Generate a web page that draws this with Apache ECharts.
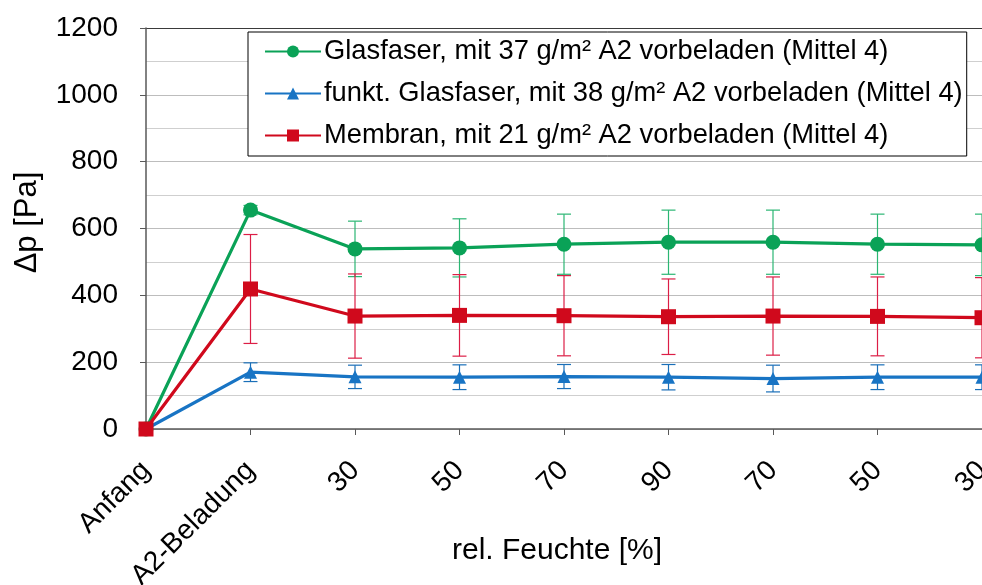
<!DOCTYPE html>
<html>
<head>
<meta charset="utf-8">
<style>
  html, body { margin: 0; padding: 0; background: #fff; }
  #chart { width: 982px; height: 585px; }
</style>
<script src="https://cdn.jsdelivr.net/npm/echarts@6/dist/echarts.min.js"></script>
</head>
<body>
<div id="chart"></div>
<script>
// Pressure drop over the humidity cycle, three pre-loaded filter media
const categories = ['Anfang', 'A2-Beladung', '30', '50', '70', '90', '70', '50', '30'];

const glasfaserMean = [0, 655, 539, 542, 553, 559, 559, 553, 551];
const glasfaserErr  = [0, 14, 83, 87, 90, 96, 96, 90, 92];

const funktMean = [0, 170, 156, 155, 157, 155, 151, 155, 155];
const funktErr  = [0, 28, 35, 37, 36, 38, 40, 37, 37];

const membranMean = [0, 419, 338, 340, 339, 336, 338, 337, 333];
const membranErr  = [0, 163, 126, 122, 120, 113, 117, 118, 120];

const seriesNames = [
  'Glasfaser, mit 37 g/m² A2 vorbeladen (Mittel 4)',
  'funkt. Glasfaser, mit 38 g/m² A2 vorbeladen (Mittel 4)',
  'Membran, mit 21 g/m² A2 vorbeladen (Mittel 4)'
];

const yTicks = { min: 0, max: 1200, step: 200 };

const FONT = "'Liberation Sans', Arial, sans-serif";
const colors = ['#0aa257', '#1874c4', '#d0091c'];
const errColors = ['#2bb673', '#1a6fb8', '#dc1e46'];

function errorData(mean, err) {
  const out = [];
  for (let i = 0; i < mean.length; i++) {
    if (err[i] > 0) out.push([i, mean[i] - err[i], mean[i] + err[i]]);
  }
  return out;
}

function errorSeries(name, data, color) {
  return {
    type: 'custom',
    name: name + ' err',
    data: data,
    z: 1,
    silent: true,
    renderItem: function (params, api) {
      const x = api.value(0);
      const lo = api.coord([x, api.value(1)]);
      const hi = api.coord([x, api.value(2)]);
      const cap = 7;
      const style = { stroke: color, lineWidth: 1.2, fill: null };
      return {
        type: 'group',
        children: [
          { type: 'line', shape: { x1: lo[0], y1: lo[1], x2: hi[0], y2: hi[1] }, style: style },
          { type: 'line', shape: { x1: lo[0] - cap, y1: lo[1], x2: lo[0] + cap, y2: lo[1] }, style: style },
          { type: 'line', shape: { x1: hi[0] - cap, y1: hi[1], x2: hi[0] + cap, y2: hi[1] }, style: style }
        ]
      };
    }
  };
}

function lineSeries(name, data, color, symbol, size) {
  return {
    type: 'line',
    name: name,
    data: data,
    z: 3,
    symbol: symbol,
    symbolSize: size,
    showAllSymbol: true,
    lineStyle: { color: color, width: 3.2 },
    itemStyle: { color: color },
    emphasis: { disabled: true }
  };
}

const chart = echarts.init(document.getElementById('chart'), null, { renderer: 'canvas' });

chart.setOption({
  animation: false,
  backgroundColor: '#ffffff',
  textStyle: { fontFamily: FONT },
  grid: { left: 146, top: 28, right: 0, bottom: 156, containLabel: false, outerBoundsMode: 'none' },
  legend: {
    orient: 'vertical',
    left: 248,
    top: 32,
    padding: [6, 4, 7, 16],
    itemGap: 15,
    itemWidth: 56,
    itemHeight: 15,
    borderColor: '#000',
    borderWidth: 1,
    backgroundColor: '#fff',
    textStyle: { fontFamily: FONT, fontSize: 27.3, color: '#000', padding: [0, 0, 0, -2] },
    data: seriesNames
  },
  xAxis: {
    type: 'category',
    data: categories,
    boundaryGap: false,
    name: 'rel. Feuchte [%]',
    nameLocation: 'middle',
    nameMoveOverlap: false,
    nameGap: 107,
    nameTextStyle: { fontFamily: FONT, fontSize: 30, color: '#000', padding: [0, 14, 0, 0] },
    axisLine: { lineStyle: { color: '#595959', width: 1.5 } },
    axisTick: { show: true, length: 6, lineStyle: { color: '#595959' } },
    axisLabel: {
      rotate: 45, margin: 37, fontFamily: FONT, fontSize: 28, color: '#000', interval: 0,
      padding: [14, 0, 0, 0]
    },
    splitLine: { show: false }
  },
  yAxis: {
    type: 'value',
    min: yTicks.min,
    max: yTicks.max,
    interval: yTicks.step,
    name: 'Δp [Pa]',
    nameLocation: 'middle',
    nameMoveOverlap: false,
    nameGap: 103,
    nameTextStyle: { fontFamily: FONT, fontSize: 31, color: '#000', padding: [0, 0, 0, 12] },
    axisLine: { show: true, lineStyle: { color: '#595959', width: 1.5 } },
    axisTick: { show: true, length: 6, lineStyle: { color: '#595959' } },
    axisLabel: {
      margin: 28, fontFamily: FONT, fontSize: 28, color: '#000',
      formatter: function (v) { return String(v); }
    },
    splitLine: {
      show: true,
      lineStyle: {
        color: ['#bdbdbd', '#bdbdbd', '#bdbdbd', '#bdbdbd', '#bdbdbd', '#bdbdbd', '#3a3a3a'],
        width: 1
      }
    },
    minorTick: { show: false, splitNumber: 2 },
    minorSplitLine: { show: true, lineStyle: { color: '#cfcfcf', width: 1 } }
  },
  series: [
    errorSeries(seriesNames[0], errorData(glasfaserMean, glasfaserErr), errColors[0]),
    errorSeries(seriesNames[1], errorData(funktMean, funktErr), errColors[1]),
    errorSeries(seriesNames[2], errorData(membranMean, membranErr), errColors[2]),
    lineSeries(seriesNames[0], glasfaserMean, colors[0], 'circle', 15),
    lineSeries(seriesNames[1], funktMean, colors[1], 'triangle', 13),
    lineSeries(seriesNames[2], membranMean, colors[2], 'rect', 15)
  ]
});
</script>
</body>
</html>
